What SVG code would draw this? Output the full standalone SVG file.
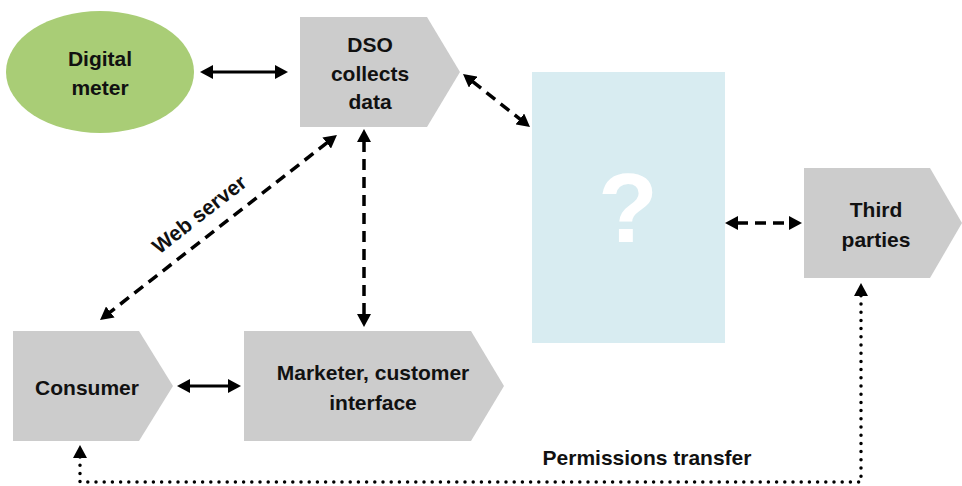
<svg xmlns="http://www.w3.org/2000/svg" width="962" height="486" viewBox="0 0 962 486">
  <style>
    .lbl { font-family: "Liberation Sans", Arial, sans-serif; font-weight: bold; font-size: 21px; fill: #111; text-anchor: middle; dominant-baseline: central; }
    .box { fill: #cccccc; }
    .solid { stroke: #000; stroke-width: 3; fill: none; }
    .dash { stroke: #000; stroke-width: 3.5; fill: none; stroke-dasharray: 11 7; }
    .dot { stroke: #000; stroke-width: 3.5; fill: none; stroke-dasharray: 0 8.2; stroke-linecap: round; }
  </style>
  <defs>
    <marker id="head" viewBox="0 0 13 14" refX="1" refY="7" markerWidth="13" markerHeight="14" markerUnits="userSpaceOnUse" orient="auto-start-reverse">
      <path d="M0,0 L13,7 L0,14 z" fill="#000"/>
    </marker>
  </defs>

  <rect width="962" height="486" fill="#fff"/>

  <!-- nodes -->
  <g id="digital-meter">
    <ellipse cx="100" cy="72" rx="94" ry="61" fill="#a9cd76"/>
    <text class="lbl" x="100" y="58">Digital</text>
    <text class="lbl" x="100" y="87">meter</text>
  </g>

  <g id="dso">
    <polygon class="box" points="300,17 427,17 460,72 427,127 300,127"/>
    <text class="lbl" x="370" y="44">DSO</text>
    <text class="lbl" x="370" y="73">collects</text>
    <text class="lbl" x="370" y="101">data</text>
  </g>

  <g id="unknown">
    <rect x="532" y="72" width="193" height="271" fill="#d8ecf1"/>
    <text x="628" y="242" font-family="Liberation Sans, Arial, sans-serif" font-weight="bold" font-size="98" fill="#fff" text-anchor="middle">?</text>
  </g>

  <g id="third-parties">
    <polygon class="box" points="804,168 930,168 962,223 930,278 804,278"/>
    <text class="lbl" x="876" y="209">Third</text>
    <text class="lbl" x="876" y="239">parties</text>
  </g>

  <g id="consumer">
    <polygon class="box" points="13,331 139,331 173,386 139,441 13,441"/>
    <text class="lbl" x="87" y="387">Consumer</text>
  </g>

  <g id="marketer">
    <polygon class="box" points="244,331 471,331 504,386 471,441 244,441"/>
    <text class="lbl" x="373" y="372">Marketer, customer</text>
    <text class="lbl" x="373" y="402">interface</text>
  </g>

  <!-- connectors -->
  <g id="connectors">
    <line class="solid" x1="212" y1="72" x2="276" y2="72" marker-start="url(#head)" marker-end="url(#head)"/>
    <line class="solid" x1="189" y1="386" x2="229" y2="386" marker-start="url(#head)" marker-end="url(#head)"/>
    <line class="dash" x1="364" y1="141" x2="364" y2="315" marker-start="url(#head)" marker-end="url(#head)"/>
    <line class="dash" x1="737" y1="223" x2="790" y2="223" marker-start="url(#head)" marker-end="url(#head)"/>
    <line class="dash" x1="472.4" y1="81.4" x2="520.6" y2="119.6" marker-start="url(#head)" marker-end="url(#head)"/>
    <line class="dash" x1="327.5" y1="142.4" x2="109.5" y2="312.6" marker-start="url(#head)" marker-end="url(#head)"/>
    <text class="lbl" x="199" y="214" transform="rotate(-38 199 214)">Web server</text>
    <path class="dot" d="M80,457 L80,482 L861,482 L861,295" marker-start="url(#head)" marker-end="url(#head)"/>
    <text class="lbl" x="647" y="457">Permissions transfer</text>
  </g>
</svg>
